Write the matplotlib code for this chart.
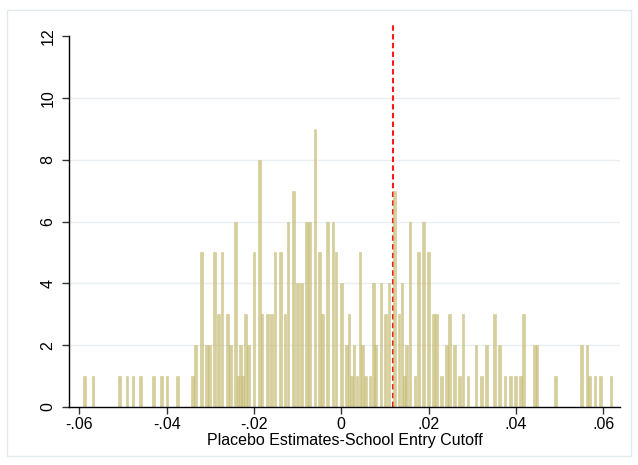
import matplotlib
matplotlib.use("Agg")
from matplotlib import pyplot as plt
from matplotlib.patches import Rectangle

plt.rcParams['font.family'] = ['Liberation Sans', 'DejaVu Sans']

# bar centres (placebo estimate) and counts
estimates = [-0.05879, -0.05688, -0.05077, -0.04910, -0.04772, -0.04605,
             -0.04298, -0.04115, -0.03993, -0.03748, -0.03404, -0.03336,
             -0.03207, -0.03093, -0.03024, -0.02900, -0.02809, -0.02733,
             -0.02612, -0.02543, -0.02428, -0.02367, -0.02305, -0.02259,
             -0.02190, -0.02121, -0.02000, -0.01879, -0.01817, -0.01695,
             -0.01595, -0.01519, -0.01397, -0.01290, -0.01221, -0.01091,
             -0.01008, -0.00907, -0.00793, -0.00733, -0.00603, -0.00495,
             -0.00426, -0.00312, -0.00190, -0.00121, 0.00000, 0.00124,
             0.00176, 0.00229, 0.00291, 0.00360, 0.00428, 0.00486,
             0.00548, 0.00658, 0.00731, 0.00788, 0.00910, 0.01013,
             0.01093, 0.01219, 0.01322, 0.01391, 0.01441, 0.01498,
             0.01574, 0.01688, 0.01764, 0.01879, 0.01993, 0.02117,
             0.02181, 0.02296, 0.02415, 0.02486, 0.02598, 0.02703,
             0.02788, 0.02903, 0.03086, 0.03205, 0.03326, 0.03503,
             0.03629, 0.03750, 0.03869, 0.03991, 0.04105, 0.04179,
             0.04422, 0.04483, 0.04912, 0.05507, 0.05629, 0.05682,
             0.05812, 0.05934, 0.06179]
counts = [1, 1, 1, 1, 1, 1,
          1, 1, 1, 1, 1, 2,
          5, 2, 2, 5, 3, 5,
          3, 2, 6, 1, 2, 1,
          3, 2, 5, 8, 3, 3,
          3, 5, 5, 3, 6, 7,
          4, 4, 6, 6, 9, 5,
          3, 6, 6, 5, 4, 2,
          3, 1, 2, 1, 5, 2,
          1, 1, 4, 2, 4, 3,
          4, 7, 3, 4, 1, 2,
          6, 1, 5, 6, 5, 3,
          3, 1, 2, 3, 2, 1,
          3, 1, 2, 1, 2, 3,
          2, 1, 1, 1, 1, 3,
          2, 2, 1, 2, 2, 1,
          1, 1, 1]

true_cutoff = 0.0118
xtick_vals = [-0.06, -0.04, -0.02, 0, 0.02, 0.04, 0.06]
xtick_labels = ['-.06', '-.04', '-.02', '0', '.02', '.04', '.06']
ytick_vals = [0, 2, 4, 6, 8, 10, 12]


def main():
    fig = plt.figure(figsize=(6.38, 4.65), dpi=100)
    fig.patches.append(Rectangle((0.011, 0.02), 0.978, 0.958, transform=fig.transFigure,
                                 fill=False, edgecolor='#e3eaec', linewidth=1))
    ax = fig.add_axes([0.1089, 0.1247, 0.8629, 0.8215])

    for y in ytick_vals[1:-1]:
        ax.axhline(y, color='#e9eff0', linewidth=1, zorder=0)

    ax.axvline(true_cutoff, color='#ff1a1a', linewidth=1.5,
               linestyle=(0, (2.6, 1.6)), zorder=1)

    ax.bar(estimates, counts, width=0.00066, color='#c9c07a', alpha=0.75,
           edgecolor='#c4bb74', linewidth=0.4, zorder=2)

    ax.set_xlim(-0.06227, 0.06385)
    ax.set_ylim(0, 12.36)

    ax.spines['top'].set_visible(False)
    ax.spines['right'].set_visible(False)
    ax.spines['left'].set_bounds(0, 12)
    ax.spines['left'].set_linewidth(1)
    ax.spines['bottom'].set_linewidth(1)

    ax.set_xticks(xtick_vals)
    ax.set_xticklabels(xtick_labels, fontsize=11.5)
    ax.set_yticks(ytick_vals)
    ax.set_yticklabels([str(v) for v in ytick_vals], fontsize=11.5,
                       rotation=90, va='center')
    ax.tick_params(axis='both', length=5, width=1, color='#333333')
    ax.tick_params(axis='y', pad=5)
    ax.tick_params(axis='x', pad=2)

    ax.set_xlabel('Placebo Estimates-School Entry Cutoff', fontsize=11.5, labelpad=1)

    fig.savefig('out.png', dpi=100)


if __name__ == "__main__":
    main()
